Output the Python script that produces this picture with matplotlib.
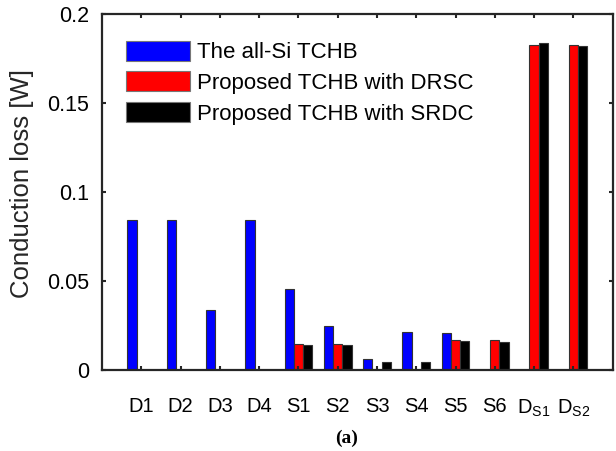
import matplotlib
matplotlib.use('Agg')
import matplotlib.pyplot as plt
import numpy as np

plt.rcParams['font.family'] = ['Liberation Sans', 'DejaVu Sans']
plt.rcParams['mathtext.fontset'] = 'custom'
plt.rcParams['mathtext.rm'] = 'Liberation Sans'
plt.rcParams['mathtext.it'] = 'Liberation Sans'

# Conduction loss per device [W]
devices = ['D1', 'D2', 'D3', 'D4', 'S1', 'S2', 'S3', 'S4', 'S5', 'S6',
           r'D$_{\mathrm{S1}}$', r'D$_{\mathrm{S2}}$']
all_si = [0.0842, 0.0842, 0.0333, 0.0842, 0.0453, 0.0245, 0.0058, 0.0210,
          0.0204, 0.0, 0.0, 0.0]
drsc = [0.0, 0.0, 0.0, 0.0, 0.0144, 0.0145, 0.0, 0.0, 0.0166, 0.0166,
        0.1827, 0.1827]
srdc = [0.0, 0.0, 0.0, 0.0, 0.0136, 0.0136, 0.0041, 0.0041, 0.0160, 0.0156,
        0.1836, 0.1823]
series_labels = ['The all-Si TCHB', 'Proposed TCHB with DRSC',
                 'Proposed TCHB with SRDC']
y_ticks = [0, 0.05, 0.1, 0.15, 0.2]
y_tick_labels = ['0', '0.05', '0.1', '0.15', '0.2']

fig = plt.figure(figsize=(6.16, 4.51), dpi=100)
ax = fig.add_axes([0.1656, 0.1807, 0.829, 0.7876])

# grouped bars: three series side by side around each device position
x = np.arange(1, len(devices) + 1)
w = 0.236
edge = '#333333'
ax.bar(x - w, all_si, w, color='#0000FF', edgecolor=edge, linewidth=0.8,
       label=series_labels[0])
ax.bar(x, drsc, w, color='#FF0000', edgecolor=edge, linewidth=0.8,
       label=series_labels[1])
ax.bar(x + w, srdc, w, color='#000000', edgecolor=edge, linewidth=0.8,
       label=series_labels[2])

ax.set_xlim(0, 13)
ax.set_ylim(0, 0.2)
ax.set_xticks(x)
ax.set_xticklabels(devices, fontsize=14.5)
ax.set_yticks(y_ticks)
ax.set_yticklabels(y_tick_labels, fontsize=15.5)
ax.tick_params(direction='in', top=True, right=True, length=3, width=1.5,
               color='#262626')
ax.tick_params(axis='y', pad=9.5)
ax.tick_params(axis='x', pad=20)
for s in ax.spines.values():
    s.set_linewidth(1.6)
    s.set_color('#262626')

ax.set_ylabel('Conduction loss [W]', fontsize=18.5, color='#262626')
ax.yaxis.set_label_coords(-0.133, 0.525)

leg = ax.legend(loc='upper left', bbox_to_anchor=(0.0464, 0.925), frameon=False,
                fontsize=16, handlelength=2.9, handleheight=1.0,
                handletextpad=0.3, labelspacing=0.36, borderpad=0,
                borderaxespad=0)
for h in leg.legend_handles:
    h.set_edgecolor('#777777')

fig.text(0.563, 0.029, '(a)', fontsize=14, fontweight='bold',
         family='Liberation Serif', ha='center', va='center')

fig.savefig('out.png', dpi=100)
